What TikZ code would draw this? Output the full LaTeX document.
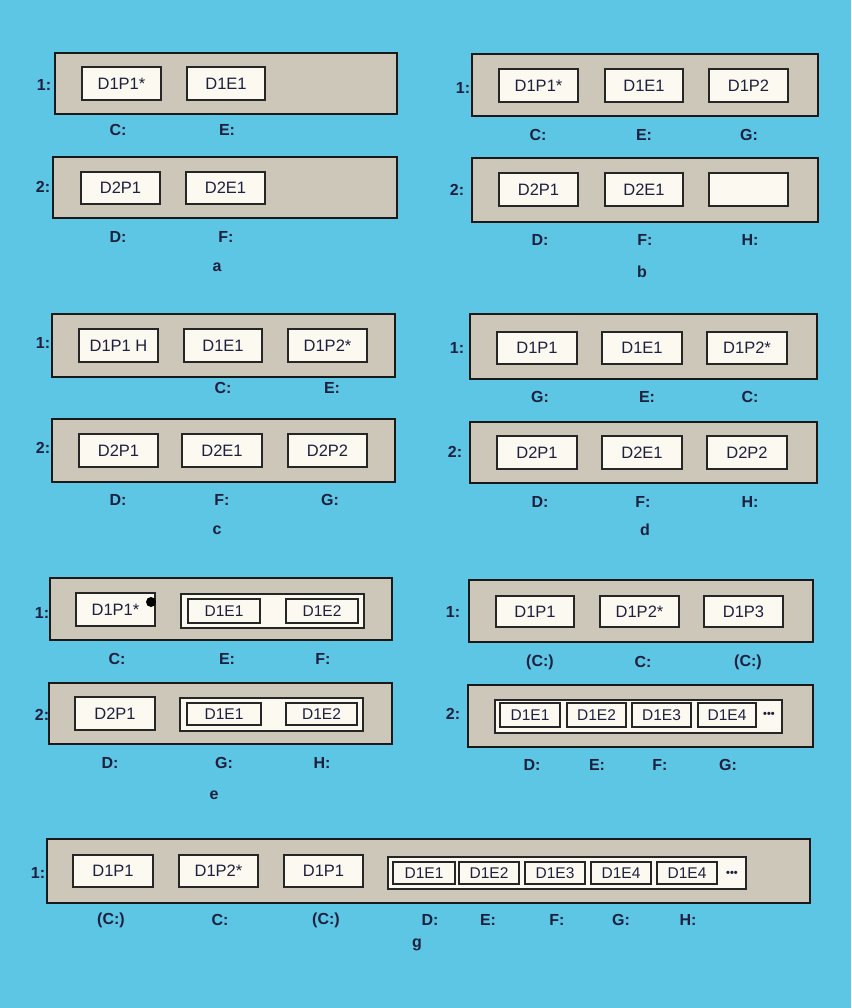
\documentclass[tikz,border=0pt]{standalone}
\usepackage{fontspec}
\setmainfont{Liberation Sans}
\definecolor{bgblue}{RGB}{92,198,228}
\definecolor{barfill}{RGB}{204,199,184}
\definecolor{boxfill}{RGB}{251,249,240}
\definecolor{ink}{RGB}{30,32,62}
\tikzset{
  bar/.style={draw=black!90, fill=barfill, line width=2.6pt, inner sep=0pt, outer sep=0pt},
  cell/.style={draw=black!85, fill=boxfill, line width=1.3pt, inner sep=0pt, outer sep=0pt,
    text=ink, font=\fontsize{16.5}{16.5}\selectfont},
  holder/.style={draw=black!85, fill=boxfill, line width=1.3pt, inner sep=0pt, outer sep=0pt},
  small/.style={cell, line width=1.1pt, font=\fontsize{15.5}{15.5}\selectfont},
  lab/.style={text=ink, font=\fontsize{16}{16}\selectfont\bfseries, inner sep=0pt},
  num/.style={lab},
  figcap/.style={lab},
  dots/.style={text=ink, font=\fontsize{11}{11}\selectfont\bfseries, inner sep=0pt}
}
% style, name, x1, y1, x2, y2, text
\newcommand{\rb}[7]{\node[#1, minimum width={(#5-#3)*1pt}, minimum height={(#6-#4)*1pt}] (#2) at ({(#3+#5)/2},{(#4+#6)/2}) {#7};}
\begin{document}
\begin{tikzpicture}[x=1pt,y=-1pt]
\fill[bgblue] (0,0) rectangle (851,1008);
\useasboundingbox (0,0) rectangle (851,1008);

% ---------- panel a ----------
\rb{bar}{a1}{55}{53}{397}{114}{}
\rb{cell}{a1p}{82}{67}{161}{100}{D1P1*}
\rb{cell}{a1e}{187}{67}{265}{100}{D1E1}
\node[num] (a1n) at (44,85) {1:};
\node[lab] (a1c) at (118,130) {C:};
\node[lab] (a1ee) at (227,130) {E:};
\rb{bar}{a2}{53}{157}{397}{218}{}
\rb{cell}{a2p}{81}{172}{160}{204}{D2P1}
\rb{cell}{a2e}{186}{172}{265}{204}{D2E1}
\node[num] (a2n) at (43,187) {2:};
\node[lab] (a2d) at (118,237) {D:};
\node[lab] (a2f) at (226,237) {F:};
\node[figcap] (acap) at (217,267) {a};

% ---------- panel b ----------
\rb{bar}{b1}{472}{54}{818}{116}{}
\rb{cell}{b1p}{499}{69}{578}{102}{D1P1*}
\rb{cell}{b1e}{605}{69}{683}{102}{D1E1}
\rb{cell}{b1q}{709}{69}{788}{102}{D1P2}
\node[num] (b1n) at (463,88) {1:};
\node[lab] (b1c) at (538,135) {C:};
\node[lab] (b1ee) at (644,135) {E:};
\node[lab] (b1g) at (749,135) {G:};
\rb{bar}{b2}{472}{158}{818}{222}{}
\rb{cell}{b2p}{499}{173}{578}{206}{D2P1}
\rb{cell}{b2e}{605}{173}{683}{206}{D2E1}
\rb{cell}{b2q}{709}{173}{788}{206}{}
\node[num] (b2n) at (457,190) {2:};
\node[lab] (b2d) at (540,240) {D:};
\node[lab] (b2f) at (645,240) {F:};
\node[lab] (b2h) at (750,240) {H:};
\node[figcap] (bcap) at (642,272) {b};

% ---------- panel c ----------
\rb{bar}{c1}{52}{314}{395}{377}{}
\rb{cell}{c1p}{79}{329}{158}{362}{D1P1 H}
\rb{cell}{c1e}{184}{329}{262}{362}{D1E1}
\rb{cell}{c1q}{288}{329}{367}{362}{D1P2*}
\node[num] (c1n) at (43,343) {1:};
\node[lab] (c1c) at (223,388) {C:};
\node[lab] (c1ee) at (332,388) {E:};
\rb{bar}{c2}{52}{419}{395}{482}{}
\rb{cell}{c2p}{79}{434}{158}{467}{D2P1}
\rb{cell}{c2e}{182}{434}{262}{467}{D2E1}
\rb{cell}{c2q}{288}{434}{367}{467}{D2P2}
\node[num] (c2n) at (43,448) {2:};
\node[lab] (c2d) at (118,500) {D:};
\node[lab] (c2f) at (222,500) {F:};
\node[lab] (c2g) at (330,500) {G:};
\node[figcap] (ccap) at (217,530) {c};

% ---------- panel d ----------
\rb{bar}{d1}{470}{314}{817}{379}{}
\rb{cell}{d1p}{497}{332}{577}{364}{D1P1}
\rb{cell}{d1e}{602}{332}{682}{364}{D1E1}
\rb{cell}{d1q}{707}{332}{787}{364}{D1P2*}
\node[num] (d1n) at (457,348) {1:};
\node[lab] (d1g) at (540,397) {G:};
\node[lab] (d1ee) at (647,397) {E:};
\node[lab] (d1c) at (750,397) {C:};
\rb{bar}{d2}{470}{422}{817}{483}{}
\rb{cell}{d2p}{497}{436}{577}{469}{D2P1}
\rb{cell}{d2e}{602}{436}{682}{469}{D2E1}
\rb{cell}{d2q}{707}{436}{787}{469}{D2P2}
\node[num] (d2n) at (455,452) {2:};
\node[lab] (d2d) at (540,502) {D:};
\node[lab] (d2f) at (643,502) {F:};
\node[lab] (d2h) at (750,502) {H:};
\node[figcap] (dcap) at (645,530) {d};

% ---------- panel e ----------
\rb{bar}{e1}{50}{578}{392}{640}{}
\rb{cell}{e1p}{76}{593}{155}{626}{D1P1*}
\fill[black] (151,602) circle (5);
\rb{holder}{e1h}{181}{594}{364}{628}{}
\rb{small}{e1a}{188}{599}{260}{623}{D1E1}
\rb{small}{e1b}{286}{599}{358}{623}{D1E2}
\node[num] (e1n) at (42,613) {1:};
\node[lab] (e1c) at (117,659) {C:};
\node[lab] (e1ee) at (227,659) {E:};
\node[lab] (e1f) at (323,659) {F:};
\rb{bar}{e2}{49}{683}{392}{744}{}
\rb{cell}{e2p}{75}{697}{155}{730}{D2P1}
\rb{holder}{e2h}{180}{698}{363}{731}{}
\rb{small}{e2a}{187}{703}{261}{725}{D1E1}
\rb{small}{e2b}{286}{703}{357}{725}{D1E2}
\node[num] (e2n) at (42,715) {2:};
\node[lab] (e2d) at (110,763) {D:};
\node[lab] (e2g) at (224,763) {G:};
\node[lab] (e2h2) at (322,763) {H:};
\node[figcap] (ecap) at (214,795) {e};

% ---------- panel f ----------
\rb{bar}{f1}{469}{580}{813}{642}{}
\rb{cell}{f1p}{496}{596}{574}{627}{D1P1}
\rb{cell}{f1q}{600}{596}{679}{627}{D1P2*}
\rb{cell}{f1r}{704}{596}{783}{627}{D1P3}
\node[num] (f1n) at (453,612) {1:};
\node[lab] (f1c1) at (540,662) {(C:)};
\node[lab] (f1c2) at (643,662) {C:};
\node[lab] (f1c3) at (748,662) {(C:)};
\rb{bar}{f2}{468}{685}{813}{747}{}
\rb{holder}{f2h}{495}{700}{782}{733}{}
\rb{small}{f2a}{500}{703}{560}{727}{D1E1}
\rb{small}{f2b}{567}{703}{626}{727}{D1E2}
\rb{small}{f2c}{632}{703}{691}{727}{D1E3}
\rb{small}{f2d}{698}{703}{756}{727}{D1E4}
\node[dots] (f2x) at (769,715) {•••};
\node[num] (f2n) at (453,714) {2:};
\node[lab] (f2dd) at (532,765) {D:};
\node[lab] (f2e) at (597,765) {E:};
\node[lab] (f2f) at (660,765) {F:};
\node[lab] (f2g) at (728,765) {G:};

% ---------- panel g ----------
\rb{bar}{g1}{47}{839}{810}{903}{}
\rb{cell}{g1p}{73}{855}{153}{887}{D1P1}
\rb{cell}{g1q}{179}{855}{258}{887}{D1P2*}
\rb{cell}{g1r}{284}{855}{363}{887}{D1P1}
\rb{holder}{g1h}{388}{857}{746}{889}{}
\rb{small}{g1a}{393}{862}{455}{884}{D1E1}
\rb{small}{g1b}{459}{862}{519}{884}{D1E2}
\rb{small}{g1c}{525}{862}{585}{884}{D1E3}
\rb{small}{g1d}{591}{862}{651}{884}{D1E4}
\rb{small}{g1e}{657}{862}{717}{884}{D1E4}
\node[dots] (g1x) at (732,874) {•••};
\node[num] (g1n) at (38,873) {1:};
\node[lab] (g1l1) at (111,920) {(C:)};
\node[lab] (g1l2) at (220,920) {C:};
\node[lab] (g1l3) at (326,920) {(C:)};
\node[lab] (g1l4) at (430,920) {D:};
\node[lab] (g1l5) at (488,920) {E:};
\node[lab] (g1l6) at (557,920) {F:};
\node[lab] (g1l7) at (621,920) {G:};
\node[lab] (g1l8) at (688,920) {H:};
\node[figcap] (gcap) at (417,945) {g};
\end{tikzpicture}
\end{document}
